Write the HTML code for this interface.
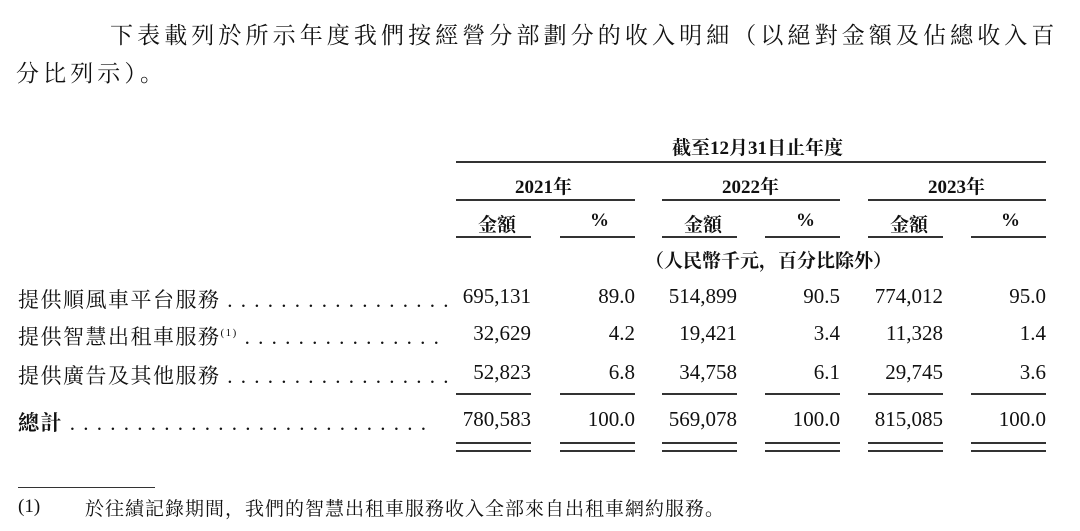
<!DOCTYPE html>
<html><head><meta charset="utf-8"><style>
body{margin:0;background:#fff;width:1080px;height:531px;position:relative;overflow:hidden;font-family:"Liberation Serif","Noto Serif CJK SC","Noto Sans CJK TC",serif;color:#111}
.a{position:absolute;white-space:nowrap}
.p{font-size:23px;letter-spacing:4.1px}
.h{font-weight:bold;font-size:19px}
.l{position:absolute;height:2px;background:#333}
.r{position:absolute;text-align:right;font-size:21px;white-space:nowrap}
.lab{font-size:21px;letter-spacing:1.5px}
</style></head><body>
<div class="a p" style="left:110px;top:17px">下表載列於所示年度我們按經營分部劃分的收入明細（以絕對金額及佔總收入百</div>
<div class="a p" style="left:16px;top:55px">分比列示）。</div>

<div class="a h" style="left:672px;top:133px">截至12月31日止年度</div>
<div class="l" style="left:456px;top:161px;width:590px"></div>
<div class="a h" style="left:515px;top:172px">2021年</div>
<div class="a h" style="left:722px;top:172px">2022年</div>
<div class="a h" style="left:928px;top:172px">2023年</div>
<div class="l" style="left:456px;top:199px;width:179px"></div>
<div class="l" style="left:662px;top:199px;width:178px"></div>
<div class="l" style="left:868px;top:199px;width:178px"></div>
<div class="a h" style="left:478px;top:210px">金額</div>
<div class="a h" style="left:590px;top:210px">%</div>
<div class="a h" style="left:684px;top:210px">金額</div>
<div class="a h" style="left:796px;top:210px">%</div>
<div class="a h" style="left:890px;top:210px">金額</div>
<div class="a h" style="left:1001px;top:210px">%</div>
<div class="l" style="left:456px;top:236px;width:75px"></div>
<div class="l" style="left:560px;top:236px;width:75px"></div>
<div class="l" style="left:662px;top:236px;width:75px"></div>
<div class="l" style="left:765px;top:236px;width:75px"></div>
<div class="l" style="left:868px;top:236px;width:75px"></div>
<div class="l" style="left:971px;top:236px;width:75px"></div>
<div class="a h" style="left:645px;top:246px">（人民幣千元，百分比除外）</div>

<div class="a lab" style="left:18px;top:284px">提供順風車平台服務 . . . . . . . . . . . . . . . . .</div>
<div class="a lab" style="left:18px;top:321px">提供智慧出租車服務<sup style="font-size:11px">(1)</sup> . . . . . . . . . . . . . . .</div>
<div class="a lab" style="left:18px;top:360px">提供廣告及其他服務 . . . . . . . . . . . . . . . . .</div>
<div class="a lab" style="left:18px;top:407px;font-weight:bold">總計 <span style="font-weight:normal">. . . . . . . . . . . . . . . . . . . . . . . . . . .</span></div>

<div class="r" style="left:430px;width:101px;top:284px">695,131</div>
<div class="r" style="left:535px;width:100px;top:284px">89.0</div>
<div class="r" style="left:637px;width:100px;top:284px">514,899</div>
<div class="r" style="left:740px;width:100px;top:284px">90.5</div>
<div class="r" style="left:843px;width:100px;top:284px">774,012</div>
<div class="r" style="left:946px;width:100px;top:284px">95.0</div>

<div class="r" style="left:430px;width:101px;top:321px">32,629</div>
<div class="r" style="left:535px;width:100px;top:321px">4.2</div>
<div class="r" style="left:637px;width:100px;top:321px">19,421</div>
<div class="r" style="left:740px;width:100px;top:321px">3.4</div>
<div class="r" style="left:843px;width:100px;top:321px">11,328</div>
<div class="r" style="left:946px;width:100px;top:321px">1.4</div>

<div class="r" style="left:430px;width:101px;top:360px">52,823</div>
<div class="r" style="left:535px;width:100px;top:360px">6.8</div>
<div class="r" style="left:637px;width:100px;top:360px">34,758</div>
<div class="r" style="left:740px;width:100px;top:360px">6.1</div>
<div class="r" style="left:843px;width:100px;top:360px">29,745</div>
<div class="r" style="left:946px;width:100px;top:360px">3.6</div>

<div class="l" style="left:456px;top:393px;width:75px"></div>
<div class="l" style="left:560px;top:393px;width:75px"></div>
<div class="l" style="left:662px;top:393px;width:75px"></div>
<div class="l" style="left:765px;top:393px;width:75px"></div>
<div class="l" style="left:868px;top:393px;width:75px"></div>
<div class="l" style="left:971px;top:393px;width:75px"></div>

<div class="r" style="left:430px;width:101px;top:407px">780,583</div>
<div class="r" style="left:535px;width:100px;top:407px">100.0</div>
<div class="r" style="left:637px;width:100px;top:407px">569,078</div>
<div class="r" style="left:740px;width:100px;top:407px">100.0</div>
<div class="r" style="left:843px;width:100px;top:407px">815,085</div>
<div class="r" style="left:946px;width:100px;top:407px">100.0</div>

<div class="l" style="left:456px;top:442px;width:75px"></div>
<div class="l" style="left:560px;top:442px;width:75px"></div>
<div class="l" style="left:662px;top:442px;width:75px"></div>
<div class="l" style="left:765px;top:442px;width:75px"></div>
<div class="l" style="left:868px;top:442px;width:75px"></div>
<div class="l" style="left:971px;top:442px;width:75px"></div>
<div class="l" style="left:456px;top:450px;width:75px"></div>
<div class="l" style="left:560px;top:450px;width:75px"></div>
<div class="l" style="left:662px;top:450px;width:75px"></div>
<div class="l" style="left:765px;top:450px;width:75px"></div>
<div class="l" style="left:868px;top:450px;width:75px"></div>
<div class="l" style="left:971px;top:450px;width:75px"></div>

<div class="l" style="left:18px;top:487px;width:137px;height:1px"></div>
<div class="a" style="left:18px;top:496px;font-size:19px">(1)</div>
<div class="a" style="left:85px;top:494px;font-size:19px;letter-spacing:1px">於往績記錄期間，我們的智慧出租車服務收入全部來自出租車網約服務。</div>
</body></html>
